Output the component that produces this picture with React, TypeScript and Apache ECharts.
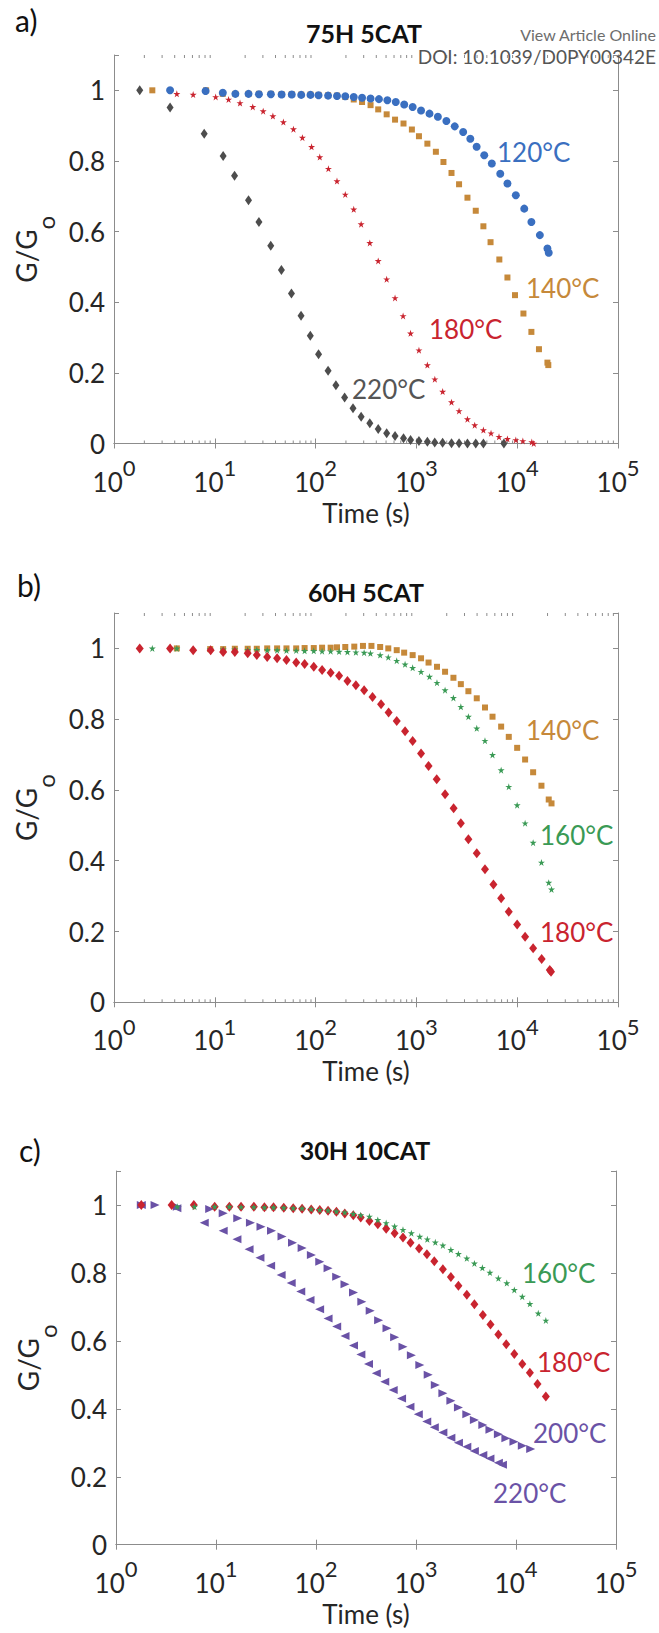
import React, { useEffect, useRef } from 'react';
import * as echarts from 'echarts';

const FONT = 'Lato, "Open Sans", sans-serif';
const LINE = '#8c8c8c';
const TXT = '#262626';

// ---------- Panel a: 75H 5CAT ----------
const aTime120 = [3.6, 8.1, 12, 16, 21.6, 27.4, 36, 46, 58, 72, 89, 107, 133, 163, 197, 239, 289, 351, 425, 515, 624, 757, 918, 1112, 1349, 1633, 1982, 2400, 2910, 3427, 3960, 4710, 5600, 6790, 8000, 9690, 11750, 13830, 16780, 19950, 20550];
const aG120 = [1.0, 0.998, 0.993, 0.99, 0.99, 0.989, 0.989, 0.988, 0.988, 0.987, 0.987, 0.986, 0.985, 0.984, 0.983, 0.981, 0.979, 0.977, 0.975, 0.972, 0.967, 0.96, 0.953, 0.943, 0.934, 0.925, 0.913, 0.898, 0.882, 0.863, 0.84, 0.816, 0.793, 0.764, 0.736, 0.703, 0.665, 0.627, 0.59, 0.552, 0.54];

const aTime140 = [2.4, 8.2, 12, 16, 21.6, 27.4, 36, 46, 58, 72, 89, 107, 133, 163, 197, 239, 289, 351, 418, 507, 614, 745, 902, 1060, 1285, 1560, 1855, 2230, 2650, 3210, 3880, 4620, 5440, 6650, 8000, 9510, 11530, 13830, 16440, 19950, 20350];
const aG140 = [1.0, 1.0, 0.99, 0.99, 0.99, 0.99, 0.99, 0.989, 0.989, 0.988, 0.988, 0.987, 0.986, 0.985, 0.981, 0.974, 0.967, 0.958, 0.946, 0.932, 0.917, 0.906, 0.889, 0.87, 0.849, 0.826, 0.797, 0.766, 0.734, 0.696, 0.659, 0.615, 0.57, 0.521, 0.47, 0.42, 0.368, 0.316, 0.267, 0.229, 0.222];

const aTime180 = [4.2, 6.1, 10.2, 13.7, 17.8, 23.8, 30.2, 37.7, 47.9, 60.3, 74, 91.2, 110, 134, 163, 197, 239, 283, 345, 418, 507, 614, 738, 875, 1060, 1285, 1524, 1822, 2230, 2650, 3210, 3790, 4620, 5500, 6600, 8000, 9690, 11380, 13960, 14600];
const aG180 = [0.99, 0.988, 0.981, 0.974, 0.964, 0.953, 0.941, 0.927, 0.91, 0.89, 0.866, 0.84, 0.811, 0.778, 0.743, 0.705, 0.663, 0.621, 0.568, 0.517, 0.465, 0.412, 0.361, 0.312, 0.264, 0.222, 0.182, 0.147, 0.117, 0.092, 0.069, 0.052, 0.038, 0.029, 0.019, 0.013, 0.01, 0.007, 0.004, 0.0];

const aTime220 = [1.8, 3.6, 7.85, 12.1, 15.7, 21.6, 27.4, 35.9, 45.8, 57.6, 71.7, 88.6, 107, 133, 159, 194, 235, 283, 345, 418, 507, 614, 745, 875, 1060, 1285, 1520, 1820, 2230, 2650, 3210, 3880, 4620, 7380];
const aG220 = [1.0, 0.951, 0.877, 0.814, 0.758, 0.689, 0.627, 0.56, 0.491, 0.425, 0.362, 0.305, 0.253, 0.206, 0.165, 0.13, 0.1, 0.076, 0.057, 0.041, 0.029, 0.021, 0.015, 0.01, 0.007, 0.005, 0.003, 0.002, 0.001, 0.001, 0.0, 0.0, 0.0, 0.0];

// ---------- Panel b: 60H 5CAT ----------
const bTime140 = [4.2, 9, 12.1, 15.8, 21.2, 26.1, 33.1, 41.5, 51.4, 64.2, 77.8, 95.9, 116, 141, 163, 197, 242, 295, 358, 437, 526, 638, 756, 918, 1112, 1320, 1600, 1925, 2330, 2760, 3280, 3970, 4790, 5690, 6930, 8250, 9990, 11980, 14390, 17400, 20550, 21900];
const bG140 = [1.0, 0.998, 0.998, 0.999, 0.999, 0.999, 1.0, 1.0, 1.0, 1.0, 1.001, 1.001, 1.002, 1.002, 1.003, 1.004, 1.005, 1.007, 1.007, 1.004, 1.0, 0.995, 0.988, 0.981, 0.972, 0.96, 0.948, 0.934, 0.917, 0.899, 0.879, 0.859, 0.833, 0.807, 0.779, 0.75, 0.719, 0.686, 0.65, 0.612, 0.573, 0.562];

const bTime160 = [2.4, 4.2, 9, 12.1, 15.8, 21.2, 26.1, 33.1, 41.5, 51.4, 64.2, 77.8, 95.9, 116, 141, 171, 207, 251, 303, 350, 437, 526, 638, 772, 918, 1112, 1349, 1600, 1925, 2330, 2760, 3280, 3970, 4790, 5690, 6930, 8250, 9990, 11980, 14390, 17400, 20550, 21900];
const bG160 = [1.0, 1.0, 0.998, 0.997, 0.997, 0.996, 0.996, 0.995, 0.995, 0.994, 0.994, 0.993, 0.993, 0.992, 0.992, 0.991, 0.99, 0.989, 0.988, 0.986, 0.981, 0.975, 0.965, 0.955, 0.945, 0.934, 0.92, 0.903, 0.882, 0.86, 0.835, 0.807, 0.774, 0.739, 0.699, 0.656, 0.609, 0.557, 0.506, 0.451, 0.395, 0.338, 0.319];

const bTime180 = [1.8, 3.6, 6.1, 9.1, 12.1, 15.8, 21.2, 26.1, 33.1, 41.5, 51.4, 64.2, 77.8, 95.9, 116, 141, 171, 207, 251, 303, 367, 446, 530, 638, 772, 918, 1112, 1320, 1590, 1925, 2340, 2760, 3280, 3970, 4790, 5810, 6930, 8250, 9990, 11980, 14390, 17480, 21050, 21650];
const bG180 = [1.0, 1.0, 0.995, 0.995, 0.99, 0.99, 0.986, 0.981, 0.976, 0.972, 0.967, 0.96, 0.956, 0.948, 0.939, 0.931, 0.923, 0.908, 0.896, 0.882, 0.863, 0.842, 0.819, 0.795, 0.766, 0.738, 0.703, 0.668, 0.63, 0.588, 0.548, 0.506, 0.461, 0.421, 0.376, 0.333, 0.294, 0.256, 0.22, 0.185, 0.153, 0.122, 0.091, 0.086];

// ---------- Panel c: 30H 10CAT ----------
const cTime160 = [4.1, 6.1, 9.7, 13.6, 17.8, 23.9, 30.5, 37.6, 47.6, 59.2, 72.6, 89.6, 109, 132, 160, 194, 236, 280, 342, 415, 503, 611, 741, 899, 1091, 1298, 1560, 1857, 2232, 2655, 3222, 3837, 4611, 5488, 6663, 8090, 9620, 11560, 13770, 16700, 19880];
const cG160 = [0.995, 0.995, 0.995, 0.995, 0.994, 0.994, 0.993, 0.993, 0.992, 0.991, 0.99, 0.988, 0.986, 0.984, 0.981, 0.978, 0.974, 0.97, 0.966, 0.956, 0.947, 0.937, 0.927, 0.917, 0.907, 0.899, 0.89, 0.881, 0.868, 0.856, 0.843, 0.828, 0.815, 0.801, 0.784, 0.77, 0.75, 0.73, 0.709, 0.681, 0.66];

const cTime180 = [1.79, 3.6, 6.0, 9.7, 13.6, 17.8, 23.9, 30.5, 37.6, 47.6, 59.2, 72.6, 89.6, 109, 132, 160, 194, 236, 280, 342, 415, 503, 611, 741, 881, 1073, 1286, 1524, 1857, 2232, 2655, 3222, 3837, 4660, 5560, 6663, 7990, 9620, 11560, 13770, 16400, 19880];
const cG180 = [1.0, 1.0, 1.0, 0.995, 0.995, 0.995, 0.995, 0.993, 0.993, 0.992, 0.99, 0.989, 0.987, 0.985, 0.983, 0.98, 0.975, 0.97, 0.963, 0.953, 0.943, 0.93, 0.917, 0.904, 0.889, 0.872, 0.855, 0.834, 0.811, 0.788, 0.762, 0.736, 0.708, 0.676, 0.648, 0.619, 0.59, 0.561, 0.532, 0.506, 0.473, 0.436];

const cTime200 = [1.79, 2.46, 4.1, 8.65, 11.8, 16.5, 22.1, 28.2, 35.9, 45.7, 58.2, 72.7, 89.9, 109, 132, 161, 195, 237, 287, 348, 423, 513, 611, 741, 899, 1091, 1324, 1560, 1857, 2232, 2655, 3222, 3837, 4660, 5488, 6663, 7925, 9530, 11560, 14030];
const cG200 = [1.0, 1.0, 0.995, 0.988, 0.976, 0.961, 0.948, 0.936, 0.924, 0.907, 0.889, 0.873, 0.853, 0.833, 0.814, 0.789, 0.767, 0.742, 0.715, 0.689, 0.661, 0.637, 0.611, 0.583, 0.558, 0.529, 0.5, 0.47, 0.446, 0.424, 0.404, 0.384, 0.367, 0.352, 0.338, 0.325, 0.313, 0.303, 0.291, 0.282];

const cTime220 = [1.79, 4.06, 7.63, 11.8, 16.2, 21.4, 27.5, 35.2, 44.8, 56.5, 70.4, 87.1, 108.7, 132, 161, 195, 237, 281, 335, 401, 487, 591, 717, 870, 1055, 1280, 1524, 1857, 2232, 2655, 3222, 3837, 4660, 5488, 6663, 7317];
const cG220 = [1.0, 0.99, 0.948, 0.924, 0.899, 0.87, 0.845, 0.821, 0.794, 0.77, 0.745, 0.72, 0.693, 0.666, 0.642, 0.614, 0.586, 0.56, 0.532, 0.505, 0.48, 0.455, 0.43, 0.406, 0.384, 0.363, 0.346, 0.33, 0.315, 0.3, 0.288, 0.276, 0.264, 0.254, 0.241, 0.235];

const panelTitles = ['75H 5CAT', '60H 5CAT', '30H 10CAT'];
const panelLetters = ['a)', 'b)', 'c)'];
const yTicks = [0, 0.2, 0.4, 0.6, 0.8, 1];

const C_BLUE = '#3a6fc0';
const C_GOLD = '#c6893a';
const C_RED = '#c9242f';
const C_GREY = '#4d4d4d';
const C_GREEN = '#3a9a55';
const C_PURPLE = '#6a52a6';

const STAR = 'path://M50,0 L61.2,34.5 L97.6,34.5 L68.2,55.9 L79.4,90.5 L50,69.1 L20.6,90.5 L31.8,55.9 L2.4,34.5 L38.8,34.5 Z';

const zip = (t: number[], g: number[]) => t.map((v, i) => [v, g[i]]);

export default function App() {
  const ref = useRef<HTMLDivElement>(null);
  useEffect(() => {
    if (!ref.current) return;
    const chart = echarts.init(ref.current, undefined, { renderer: 'svg' });

    const minorVals: number[] = [];
    for (let e = 0; e < 5; e++) for (let m = 2; m <= 9; m++) minorVals.push(m * Math.pow(10, e));

    const grids = [
      { left: 114, top: 55, width: 504, height: 388.5 },
      { left: 114, top: 613, width: 504, height: 389.3 },
      { left: 116, top: 1171, width: 500, height: 373.7 },
    ];

    const xAxes: any[] = [];
    const yAxes: any[] = [];
    grids.forEach((_, i) => {
      xAxes.push({
        type: 'log', logBase: 10, min: 1, max: 100000, gridIndex: i, position: 'bottom',
        axisLine: { show: true, lineStyle: { color: LINE, width: 1 } },
        axisTick: { show: true, inside: true, length: 5, lineStyle: { color: LINE } },
        splitLine: { show: false },
        axisLabel: {
          margin: 13,
          formatter: (v: number) => `{b|10}{s|${Math.round(Math.log10(v))}}`,
          rich: {
            b: { fontSize: 26, fontFamily: FONT, color: TXT, lineHeight: 38, verticalAlign: 'bottom' },
            s: { fontSize: 22, fontFamily: FONT, color: TXT, verticalAlign: 'top' },
          },
        },
        name: 'Time (s)', nameLocation: 'middle', nameGap: 56,
        nameTextStyle: { fontSize: 26, fontFamily: FONT, color: TXT },
      });
      xAxes.push({
        type: 'log', logBase: 10, min: 1, max: 100000, gridIndex: i, position: 'top',
        axisLine: { show: true, lineStyle: { color: LINE, width: 1 } },
        axisTick: { show: true, inside: true, length: 5, lineStyle: { color: LINE } },
        axisLabel: { show: false }, splitLine: { show: false },
      });
      yAxes.push({
        type: 'value', min: 0, max: 1.1, interval: 0.2, gridIndex: i, position: 'left',
        axisLine: { show: true, lineStyle: { color: LINE, width: 1 } },
        axisTick: { show: true, inside: true, length: 5, lineStyle: { color: LINE } },
        splitLine: { show: false },
        axisLabel: {
          margin: 9, fontSize: 26, fontFamily: FONT, color: TXT,
          formatter: (v: number) => {
            const hit = yTicks.find((t) => Math.abs(t - v) < 1e-6);
            if (hit === undefined) return '';
            return hit === 0 ? '0' : hit === 1 ? '1' : hit.toFixed(1);
          },
        },
        name: '{a|G/G}{o|o}', nameLocation: 'middle', nameGap: 42,
        nameTextStyle: {
          color: TXT,
          rich: {
            a: { fontSize: 28, fontFamily: FONT, color: TXT, verticalAlign: 'top' },
            o: { fontSize: 24, fontFamily: FONT, color: TXT, lineHeight: 46, verticalAlign: 'bottom' },
          },
        },
      });
      yAxes.push({
        type: 'value', min: 0, max: 1.1, interval: 0.2, gridIndex: i, position: 'right',
        axisLine: { show: true, lineStyle: { color: LINE, width: 1 } },
        axisTick: { show: true, inside: true, length: 5, lineStyle: { color: LINE } },
        axisLabel: { show: false }, splitLine: { show: false },
      });
    });

    const minorSeries = (i: number) => ({
      type: 'custom', xAxisIndex: 2 * i, yAxisIndex: 2 * i, silent: true, clip: false, z: 1,
      data: minorVals.map((v) => [v, 0]),
      renderItem: (_p: any, api: any) => {
        const x = api.value(0);
        const b = api.coord([x, 0]);
        const t = api.coord([x, 1.1]);
        return {
          type: 'group',
          children: [
            { type: 'line', shape: { x1: b[0], y1: b[1], x2: b[0], y2: b[1] - 3 }, style: { stroke: LINE, lineWidth: 1 } },
            { type: 'line', shape: { x1: t[0], y1: t[1], x2: t[0], y2: t[1] + 3 }, style: { stroke: LINE, lineWidth: 1 } },
          ],
        };
      },
    });

    const sc = (i: number, data: number[][], symbol: string, size: any, color: string, rot = 0, z = 2) => ({
      type: 'scatter', xAxisIndex: 2 * i, yAxisIndex: 2 * i, data, symbol, symbolSize: size,
      symbolRotate: rot, itemStyle: { color, opacity: 1 }, z, silent: true,
    });

    const series: any[] = [
      minorSeries(0), minorSeries(1),
      sc(0, zip(aTime140, aG140), 'rect', 6, C_GOLD, 0, 2),
      sc(0, zip(aTime120, aG120), 'circle', 8, C_BLUE, 0, 3),
      sc(0, zip(aTime220, aG220), 'diamond', [7, 10], C_GREY, 0, 3),
      sc(0, zip(aTime180, aG180), STAR, 7, C_RED, 0, 4),
      sc(1, zip(bTime140, bG140), 'rect', 6, C_GOLD, 0, 2),
      sc(1, zip(bTime160, bG160), STAR, 7, C_GREEN, 0, 3),
      sc(1, zip(bTime180, bG180), 'diamond', [8, 10], C_RED, 0, 4),
      sc(2, zip(cTime200, cG200), 'triangle', [8, 9], C_PURPLE, -90, 2),
      sc(2, zip(cTime220, cG220), 'triangle', [8, 9], C_PURPLE, 90, 2),
      sc(2, zip(cTime180, cG180), 'diamond', [8, 10], C_RED, 0, 3),
      sc(2, zip(cTime160, cG160), STAR, 7, C_GREEN, 0, 4),
    ];

    const txt = (text: string, x: number, y: number, fill: string, fontSize: number, align = 'left', weight = 'normal') => ({
      type: 'text', x, y, z: 10,
      style: { text, fill, fontSize, fontFamily: FONT, fontWeight: weight, align, verticalAlign: 'middle' },
    });

    const graphic: any[] = [
      txt('View Article Online', 656, 34, '#6d6d6d', 16, 'right'),
      txt('DOI: 10.1039/D0PY00342E', 656, 56, '#555555', 19, 'right'),
      txt(panelLetters[0], 15, 20, '#111', 30),
      txt(panelLetters[1], 17, 585, '#111', 30),
      txt(panelLetters[2], 19, 1150, '#111', 30),
      txt(panelTitles[0], 364, 33, '#111', 25, 'center', 'bold'),
      txt(panelTitles[1], 366, 592, '#111', 25, 'center', 'bold'),
      txt(panelTitles[2], 365, 1150, '#111', 25, 'center', 'bold'),
      txt('120°C', 497, 152, C_BLUE, 26),
      txt('140°C', 526, 288, C_GOLD, 26),
      txt('180°C', 429, 329, C_RED, 26),
      txt('220°C', 352, 389, '#555555', 26),
      txt('140°C', 526, 730, C_GOLD, 26),
      txt('160°C', 540, 835, C_GREEN, 26),
      txt('180°C', 540, 932, C_RED, 26),
      txt('160°C', 522, 1273, C_GREEN, 26),
      txt('180°C', 537, 1362, C_RED, 26),
      txt('200°C', 533, 1433, C_PURPLE, 26),
      txt('220°C', 493, 1493, C_PURPLE, 26),
    ];

    chart.setOption({
      animation: false,
      backgroundColor: '#ffffff',
      grid: grids,
      xAxis: xAxes,
      yAxis: yAxes,
      series,
      graphic,
    });
    return () => chart.dispose();
  }, []);

  return <div ref={ref} style={{ position: 'absolute', left: 0, top: 0, width: 659, height: 1633 }} />;
}
